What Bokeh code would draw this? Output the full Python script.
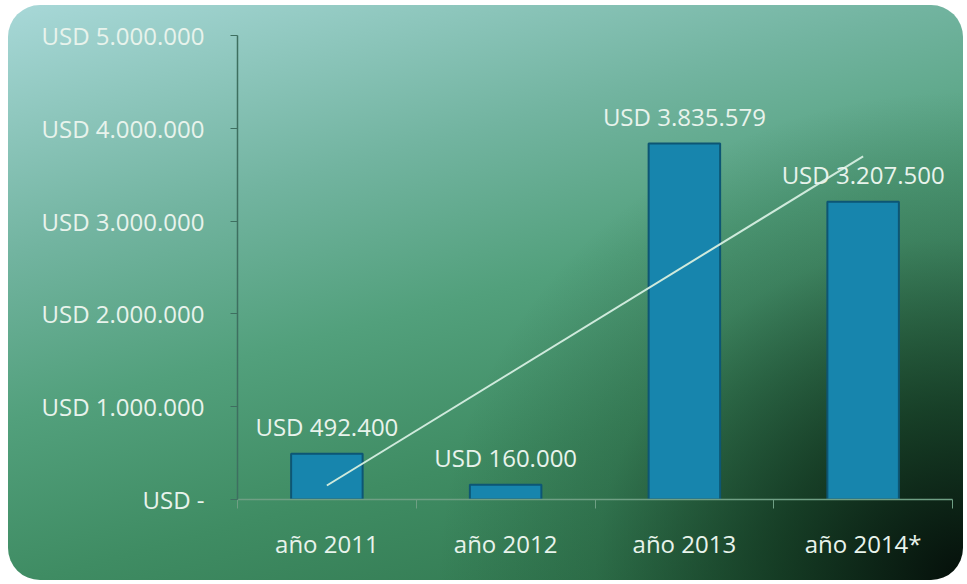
import numpy as np
from bokeh.plotting import figure
from bokeh.models import ColumnDataSource, FixedTicker, LabelSet, Range1d
from bokeh.core.properties import value
from bokeh.embed import file_html
from bokeh.resources import INLINE

# ---- data ----
years = ["año 2011", "año 2012", "año 2013", "año 2014*"]
amounts = [492400, 160000, 3835579, 3207500]
amount_labels = ["USD 492.400", "USD 160.000", "USD 3.835.579", "USD 3.207.500"]
y_ticks = [0, 1000000, 2000000, 3000000, 4000000, 5000000]
y_tick_labels = ["USD -", "USD 1.000.000", "USD 2.000.000", "USD 3.000.000",
                 "USD 4.000.000", "USD 5.000.000"]

xs = list(range(1, len(years) + 1))
src = ColumnDataSource(dict(x=xs, val=amounts, lab=amount_labels))

FONT = "Open Sans"
TXT = "#e8f3ec"

p = figure(width=955, height=575, output_backend="svg", toolbar_location=None,
           x_range=Range1d(0.5, 4.5), y_range=Range1d(0, 5000000),
           min_border_left=229, min_border_right=11, min_border_top=30,
           min_border_bottom=81)
p.background_fill_color = None
p.border_fill_color = None
p.outline_line_color = None
p.grid.visible = False
p.styles = {
    "background": ("radial-gradient(ellipse 55% 85% at 100% 100%, rgba(5,15,10,1) 0%, "
                   "rgba(12,40,22,0.75) 35%, rgba(20,60,35,0.25) 70%, rgba(0,0,0,0) 100%), "
                   "linear-gradient(165deg, #a8d8d8 0%, #72b4a0 30%, #52a07c 50%, "
                   "#3f8c63 70%, #2c7048 100%)"),
    "border-radius": "32px",
    "overflow": "hidden",
    "margin-left": "8px",
    "margin-top": "5px",
}

# bars
p.vbar(x="x", top="val", width=0.4, bottom=0, source=src,
       fill_color="#1785ad", line_color="#0d5674", line_width=2)

# linear trend line computed from the data
coef = np.polyfit(xs, amounts, 1)
tx = [xs[0], xs[-1]]
ty = [coef[0] * t + coef[1] for t in tx]
p.line(tx, ty, line_color="#cfeadc", line_width=2)

# value labels
p.add_layout(LabelSet(x="x", y="val", text="lab", source=src, y_offset=18,
                      text_align="center", text_baseline="alphabetic",
                      text_font=value(FONT), text_font_size=value("24px"),
                      text_color=value(TXT)))

# y axis
ya = p.yaxis[0]
ya.ticker = FixedTicker(ticks=y_ticks)
ya.major_label_overrides = {t: s for t, s in zip(y_ticks, y_tick_labels)}
ya.axis_line_color = "#3e6f60"
ya.axis_line_width = 1.5
ya.major_tick_line_color = "#3e6f60"
ya.major_tick_out = 7
ya.major_tick_in = 0
ya.minor_tick_line_color = None
ya.major_label_standoff = 26
ya.major_label_text_font = FONT
ya.major_label_text_font_size = "24px"
ya.major_label_text_color = TXT

# x axis
xa = p.xaxis[0]
xa.ticker = FixedTicker(ticks=xs, minor_ticks=[0.5 + i for i in range(len(years) + 1)])
xa.major_label_overrides = {x: s for x, s in zip(xs, years)}
xa.axis_line_color = "#6f9f84"
xa.axis_line_width = 1.5
xa.major_tick_line_color = None
xa.major_tick_out = 8
xa.major_tick_in = 0
xa.minor_tick_line_color = "#6f9f84"
xa.minor_tick_out = 9
xa.minor_tick_in = 0
xa.major_label_standoff = 18
xa.major_label_text_font = FONT
xa.major_label_text_font_size = "24px"
xa.major_label_text_color = TXT

open("out.html", "w").write(file_html(p, INLINE))
